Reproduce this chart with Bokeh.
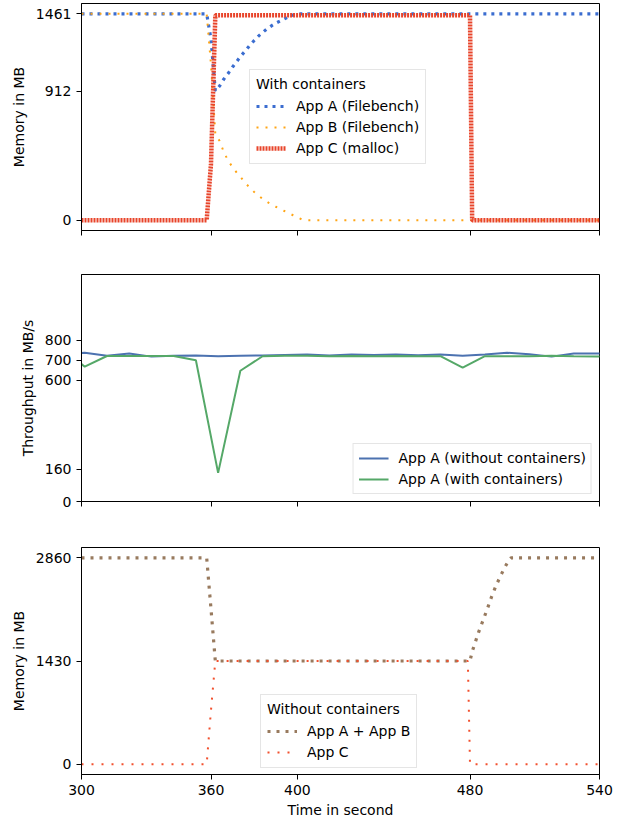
from bokeh.plotting import figure
from bokeh.layouts import column
from bokeh.models import Range1d, FixedTicker, Legend, LegendItem, CustomJSTickFormatter
from bokeh.embed import file_html
from bokeh.resources import INLINE

# ---------------- data ----------------
x_ticks = [300, 360, 400, 480, 540]

# Top panel: with containers (memory in MB)
top_t = [300, 310, 320, 330, 340, 350, 356, 358, 360, 362, 364, 366, 368, 370, 372, 374, 376, 378,
         380, 382, 384, 386, 388, 390, 392, 394, 396, 398, 400, 402, 404, 420, 440, 460, 478, 479, 480,
         481, 482, 500, 520, 540]
app_a_with = [1461, 1461, 1461, 1461, 1461, 1461, 1461, 1461, 1280, 915, 950, 1000, 1040, 1085, 1125,
              1165, 1200, 1238, 1272, 1303, 1330, 1355, 1376, 1395, 1410, 1425, 1440, 1452, 1461, 1461,
              1461, 1461, 1461, 1461, 1461, 1461, 1461, 1461, 1461, 1461, 1461, 1461]
app_b_with = [1461, 1461, 1461, 1461, 1461, 1461, 1461, 1461, 1100, 610, 560, 480, 420, 375, 335,
              300, 262, 230, 200, 175, 150, 130, 110, 95, 80, 65, 50, 35, 20, 6,
              0, 0, 0, 0, 0, 0, 0, 0, 0, 0, 0, 0]
app_c_with = [0, 0, 0, 0, 0, 0, 0, 0, 400, 1450, 1450, 1450, 1450, 1450, 1450, 1450, 1450, 1450,
              1450, 1450, 1450, 1450, 1450, 1450, 1450, 1450, 1450, 1450, 1450, 1450, 1450, 1450, 1450,
              1450, 1450, 1450, 1450, 0, 0, 0, 0, 0]
top_yticks = [0, 912, 1461]

# Middle panel: throughput in MB/s
mid_t = [291.2, 301.5, 311.8, 322.1, 332.4, 342.7, 353.0, 363.3, 373.6, 383.9, 394.2, 404.5, 414.8,
         425.1, 435.4, 445.7, 456.0, 466.3, 476.6, 486.9, 497.2, 507.5, 517.8, 528.1, 538.4, 548.7]
thr_without = [728, 737, 722, 734, 718, 722, 724, 720, 722, 724, 726, 728, 724, 728, 726, 728, 725,
               728, 722, 728, 737, 730, 718, 734, 734, 734]
thr_with = [760, 668, 721, 721, 721, 721, 700, 142, 648, 720, 722, 722, 720, 721, 720, 721, 720,
            720, 663, 720, 720, 720, 722, 720, 719, 719]
mid_yticks = [0, 160, 600, 700, 800]

# Bottom panel: without containers (memory in MB)
bot_t = [300, 320, 340, 358, 360, 362, 400, 440, 479, 480, 481, 482, 484, 486, 488, 490, 492, 494,
         496, 498, 499, 520, 540]
app_ab_without = [2860, 2860, 2860, 2860, 2150, 1430, 1430, 1430, 1430, 1430, 1560, 1650, 1830, 1990,
                  2150, 2320, 2470, 2600, 2720, 2830, 2860, 2860, 2860]
app_c_without = [0, 0, 0, 0, 750, 1430, 1430, 1430, 1430, 0, 0, 0, 0, 0, 0, 0, 0, 0, 0, 0, 0, 0, 0]
bot_yticks = [0, 1430, 2860]

FONT = "DejaVu Sans"
FS = "14px"


def make_fig(y_start, y_end, yticks, ylabel, top_border, bottom_border, show_xlabels):
    p = figure(frame_width=518, frame_height=227, output_backend="svg", toolbar_location=None,
               x_range=Range1d(300, 540), y_range=Range1d(y_start, y_end),
               min_border_left=81, min_border_right=20,
               min_border_top=top_border, min_border_bottom=bottom_border)
    p.background_fill_color = "white"
    p.border_fill_color = "white"
    p.outline_line_color = "black"
    p.outline_line_width = 1
    p.grid.visible = False
    for ax in (p.xaxis[0], p.yaxis[0]):
        ax.axis_line_color = "black"
        ax.major_tick_line_color = "black"
        ax.major_tick_out = 5
        ax.major_tick_in = 0
        ax.minor_tick_line_color = None
        ax.major_label_text_font = FONT
        ax.major_label_text_font_size = FS
        ax.major_label_text_color = "black"
        ax.axis_label_text_font = FONT
        ax.axis_label_text_font_size = FS
        ax.axis_label_text_font_style = "normal"
        ax.axis_label_text_color = "black"
        ax.major_label_standoff = 5
    p.xaxis.ticker = FixedTicker(ticks=x_ticks)
    p.yaxis.ticker = FixedTicker(ticks=yticks)
    p.yaxis.axis_label = ylabel
    p.yaxis.axis_label_standoff = 6
    if show_xlabels:
        p.xaxis.axis_label = "Time in second"
        p.xaxis.axis_label_standoff = 4
    else:
        p.xaxis.formatter = CustomJSTickFormatter(code="return ''")
    return p


def style_legend(lg):
    lg.label_text_font = FONT
    lg.label_text_font_size = FS
    lg.label_text_color = "black"
    lg.title_text_font = FONT
    lg.title_text_font_size = FS
    lg.title_text_font_style = "normal"
    lg.title_text_color = "black"
    lg.border_line_color = "#cccccc"
    lg.border_line_width = 1
    lg.background_fill_alpha = 0.85
    lg.glyph_width = 30
    lg.glyph_height = 18
    lg.label_height = 18
    lg.spacing = 3
    lg.padding = 6
    lg.margin = 0
    lg.label_standoff = 10


# ---- top ----
p1 = make_fig(-73, 1534, top_yticks, "Memory in MB", 3, 24, False)
ra = p1.line(top_t, app_a_with, line_color="#3b6dd0", line_width=3.2, line_dash="3 5")
rb = p1.line(top_t, app_b_with, line_color="#ffa515", line_width=2, line_dash="2 7")
rc = p1.line(top_t, app_c_with, line_color="#e8442a", line_width=4.5, line_dash="2 1")
lg1 = Legend(items=[LegendItem(label="App A (Filebench)", renderers=[ra]),
                    LegendItem(label="App B (Filebench)", renderers=[rb]),
                    LegendItem(label="App C (malloc)", renderers=[rc])],
             title="With containers", location=(168, 66))
style_legend(lg1)
p1.add_layout(lg1, "center")

# ---- middle ----
p2 = make_fig(0, 1125, mid_yticks, "Throughput in MB/s", 20, 26, False)
r1 = p2.line(mid_t, thr_without, line_color="#4c72b0", line_width=2)
r2 = p2.line(mid_t, thr_with, line_color="#55a868", line_width=2)
lg2 = Legend(items=[LegendItem(label="App A (without containers)", renderers=[r1]),
                    LegendItem(label="App A (with containers)", renderers=[r2])],
             location="bottom_right")
style_legend(lg2)
lg2.margin = 7
lg2.padding = 5
p2.add_layout(lg2, "center")

# ---- bottom ----
p3 = make_fig(-143, 3003, bot_yticks, "Memory in MB", 20, 46, True)
rab = p3.line(bot_t, app_ab_without, line_color="#987a5e", line_width=3.2, line_dash="3 6")
rcc = p3.line(bot_t, app_c_without, line_color="#f2502e", line_width=2, line_dash="2 8")
lg3 = Legend(items=[LegendItem(label="App A + App B", renderers=[rab]),
                    LegendItem(label="App C", renderers=[rcc])],
             title="Without containers", location=(179, 6))
style_legend(lg3)
p3.add_layout(lg3, "center")

layout = column(p1, p2, p3, spacing=0)
open("out.html", "w").write(file_html(layout, INLINE))
